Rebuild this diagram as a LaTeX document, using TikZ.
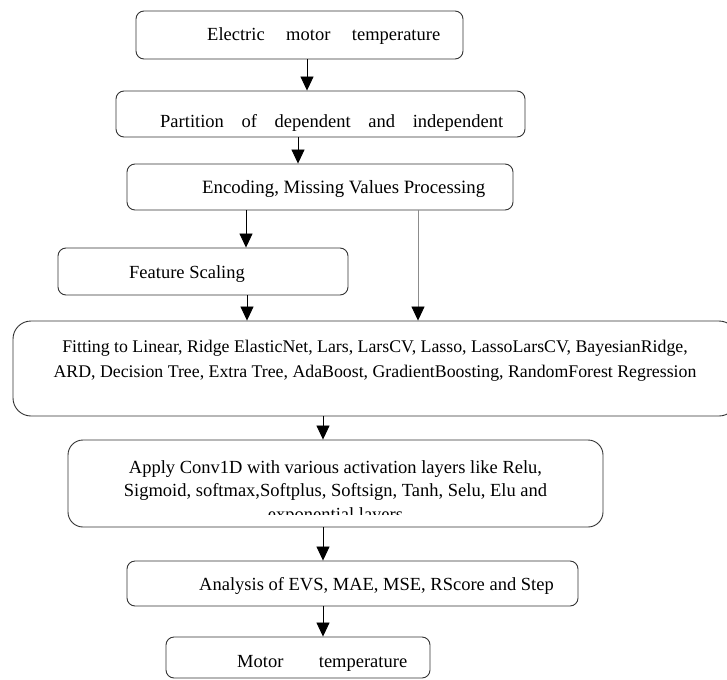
\documentclass[tikz,border=0pt]{standalone}
\usepackage{fontspec}
\setmainfont{Liberation Serif}
\usetikzlibrary{arrows.meta}
\begin{document}
\begin{tikzpicture}[x=1pt,y=-1pt,
  box/.style={draw=black!80, line width=0.9pt, rounded corners=8pt, inner sep=0pt},
  txt/.style={inner sep=0pt, font=\fontsize{18.5}{24.5}\selectfont},
  arr/.style={draw=black, line width=0.8pt, -{Triangle[width=13pt,length=14pt]}},
  garr/.style={draw=black!45, line width=0.8pt, -{Triangle[width=13pt,length=14pt,color=black]}}]
\clip (0,0) rectangle (727,679);
\fill[white] (0,0) rectangle (727,679);
% boxes
\node[box, minimum width=327pt, minimum height=48pt] (b1) at (299.5,35) {};
\node[box, minimum width=409pt, minimum height=46pt] (b2) at (320.5,114) {};
\node[box, minimum width=386pt, minimum height=46pt] (b3) at (320,187) {};
\node[box, minimum width=290pt, minimum height=47pt] (b4) at (203,271.5) {};
\node[box, rounded corners=18pt, minimum width=724pt, minimum height=95pt] (b5) at (375,368.5) {};
\node[box, rounded corners=15pt, minimum width=535pt, minimum height=87pt] (b6) at (335.5,483.5) {};
\node[box, minimum width=451pt, minimum height=45pt] (b7) at (352.5,583.5) {};
\node[box, minimum width=264pt, minimum height=41pt] (b8) at (298,657.5) {};
% texts
\node[txt, anchor=base west] (t1) at (207,41) {\makebox[233pt][s]{Electric motor temperature}};
\node[txt, anchor=base west] (t2) at (160,128) {\makebox[343pt][s]{Partition of dependent and independent}};
\node[txt, font=\fontsize{18.8}{24.5}\selectfont, anchor=base west] (t3) at (202,193) {Encoding, Missing Values Processing};
\node[txt, anchor=base west] (t4) at (129,278) {Feature Scaling};
\node[txt, font=\fontsize{17.8}{24.5}\selectfont, anchor=base, align=center] (t5) at (375,377) {Fitting to Linear, Ridge ElasticNet, Lars, LarsCV, Lasso, LassoLarsCV, BayesianRidge,\\ARD, Decision Tree, Extra Tree, AdaBoost, GradientBoosting, RandomForest Regression};
\begin{scope}
\clip (60,445) rectangle (610,514.5);
\node[txt, font=\fontsize{18.5}{23.5}\selectfont, anchor=base, align=center] (t6) at (335.5,520) {Apply Conv1D with various activation layers like Relu,\\Sigmoid, softmax,Softplus, Softsign, Tanh, Selu, Elu and\\exponential layers};
\end{scope}
\node[txt, anchor=base west] (t7) at (199,590) {Analysis of EVS, MAE, MSE, RScore and Step};
\node[txt, anchor=base west] (t8) at (237,667) {\makebox[170pt][s]{Motor temperature}};
% arrow x positions
\coordinate (x1) at (307,0);
\coordinate (x2) at (298,0);
\coordinate (x3) at (246,0);
\coordinate (x4) at (418,0);
\coordinate (x5) at (247,0);
\coordinate (x6) at (323,0);
% connectors
\draw[arr] (b1.south -| x1) -- (b2.north -| x1);
\draw[arr] (b2.south -| x2) -- (b3.north -| x2);
\draw[arr] (b3.south -| x3) -- (b4.north -| x3);
\draw[garr] (b3.south -| x4) -- (b5.north -| x4);
\draw[arr] (b4.south -| x5) -- (b5.north -| x5);
\draw[arr] (b5.south -| x6) -- (b6.north -| x6);
\draw[arr] (b6.south -| x6) -- (b7.north -| x6);
\draw[arr] (b7.south -| x6) -- (b8.north -| x6);
\end{tikzpicture}
\end{document}
